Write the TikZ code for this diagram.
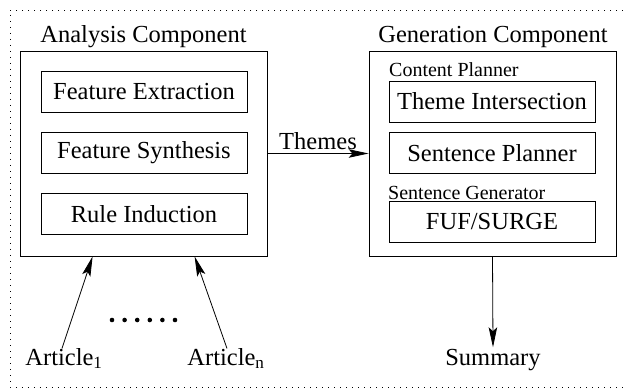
\documentclass[tikz,border=0pt]{standalone}
\usepackage{fontspec}
\setmainfont{Liberation Serif}
\usetikzlibrary{arrows.meta,calc}
\tikzset{
  bigtext/.style={font=\fontsize{24.5}{28}\selectfont},
  smalltext/.style={font=\fontsize{20}{24}\selectfont},
  compbox/.style={draw, line width=0.8pt, minimum width=247pt, minimum height=205pt, inner sep=0pt},
  stepbox/.style={draw, line width=0.8pt, minimum width=206pt, minimum height=41pt, inner sep=0pt, bigtext},
  arr/.style={line width=0.8pt, -{Stealth[length=20pt,width=8.5pt,inset=4pt]}},
  frame/.style={line width=0.8pt, dash pattern=on 0.9pt off 5.1pt}
}
\begin{document}
\begin{tikzpicture}[x=1pt,y=-1pt]
\useasboundingbox (0,0) rectangle (623,390);
% dotted frame
\draw[frame] (623,10) -- (10,10) -- (10,387) -- (623,387);

% analysis component
\node[compbox] (analysis) at (143.5,153.5) {};
\node[bigtext, anchor=base] (atitle) at (143.5,43) {Analysis Component};
\node[stepbox] (fe) at (144,91.5) {Feature Extraction};
\node[stepbox] (fs) at (144,153) {Feature Synthesis};
\node[stepbox] (ri) at (144,214) {Rule Induction};

% generation component
\node[compbox] (gen) at (492.5,153.5) {};
\node[bigtext, anchor=base] (gtitle) at (493,43) {Generation Component};
\node[smalltext, anchor=base west, inner sep=0pt] (cp) at (389,77) {Content Planner};
\node[stepbox] (ti) at (492,101.5) {Theme Intersection};
\node[stepbox] (sp) at (492,153) {Sentence Planner};
\node[smalltext, anchor=base west, inner sep=0pt] (sg) at (388,199) {Sentence Generator};
\node[stepbox] (fuf) at (492,222) {FUF/SURGE};

% themes
\draw[arr] (analysis.east) -- node[bigtext, above, inner sep=3pt] (themes) {Themes} (gen.west);

% articles
\node[bigtext, anchor=base] (a1) at (64,365) {Article\textsubscript{1}};
\node[bigtext, anchor=base] (an) at (226,365) {Article\textsubscript{n}};
\coordinate (a1in) at ($(analysis.south west)+(73,0)$);
\coordinate (anin) at ($(analysis.south west)+(175,0)$);
\draw[arr] ($(a1.north)+(-2,4)$) -- (a1in);
\draw[arr] ($(an.north)+(1,4)$) -- (anin);
\foreach \i in {0,...,5} \fill (112+12.6*\i,320) circle (2.3);

% summary
\node[bigtext, anchor=base] (sum) at (493,365) {Summary};
\draw[arr] (gen.south) -- ($(sum.north)+(0,2)$);
\end{tikzpicture}
\end{document}
